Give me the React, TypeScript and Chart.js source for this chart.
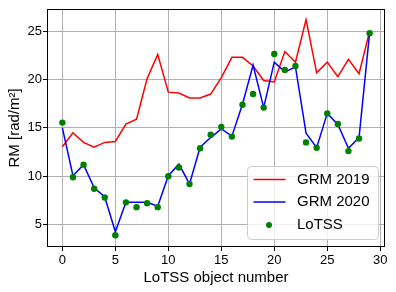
import React, { useEffect, useRef } from "react";
import { Chart, registerables } from "chart.js";

Chart.register(...registerables);

const objectNumbers = Array.from({ length: 30 }, (_, i) => i);
const grm2019 = [13.05, 14.5, 13.5, 13.0, 13.5, 13.6, 15.4, 15.9, 20.1, 22.6, 18.7, 18.6, 18.1, 18.1, 18.5, 20.2, 22.3, 22.3, 21.4, 19.9, 19.75, 22.9, 21.8, 26.2, 20.7, 21.8, 20.3, 22.1, 20.6, 25.0];
const grm2020 = [15.0, 10.05, 11.2, 8.8, 7.85, 4.25, 7.3, 7.3, 7.3, 6.9, 10.05, 11.25, 9.2, 13.0, 14.0, 14.9, 14.15, 17.45, 21.5, 17.1, 21.8, 20.8, 21.3, 14.45, 12.95, 16.5, 15.35, 12.9, 14.0, 24.85];
const lotss = [15.55, 9.9, 11.2, 8.7, 7.8, 3.9, 7.3, 6.8, 7.2, 6.8, 10.0, 10.9, 9.2, 12.9, 14.3, 15.1, 14.1, 17.4, 18.5, 17.1, 22.65, 21.0, 21.4, 13.5, 12.95, 16.5, 15.4, 12.6, 13.9, 24.8];
const seriesNames = ["GRM 2019", "GRM 2020", "LoTSS"];
const xTicks = [0, 5, 10, 15, 20, 25, 30];
const yTicks = [5, 10, 15, 20, 25];

const FONT = "'Liberation Sans', Arial, Helvetica, sans-serif";

const framePlugin = {
  id: "frameAndLegend",
  afterDraw(chart: any) {
    const { ctx, chartArea } = chart;
    ctx.save();
    ctx.strokeStyle = "#000";
    ctx.lineWidth = 1;
    ctx.strokeRect(
      Math.round(chartArea.left) + 0.5,
      Math.round(chartArea.top) + 0.5,
      Math.round(chartArea.right - chartArea.left) - 1,
      Math.round(chartArea.bottom - chartArea.top) - 1
    );
    // legend
    const bx = 247.5, by = 166.5, bw = 131, bh = 73, r = 4;
    ctx.beginPath();
    ctx.moveTo(bx + r, by);
    ctx.lineTo(bx + bw - r, by);
    ctx.arcTo(bx + bw, by, bx + bw, by + r, r);
    ctx.lineTo(bx + bw, by + bh - r);
    ctx.arcTo(bx + bw, by + bh, bx + bw - r, by + bh, r);
    ctx.lineTo(bx + r, by + bh);
    ctx.arcTo(bx, by + bh, bx, by + bh - r, r);
    ctx.lineTo(bx, by + r);
    ctx.arcTo(bx, by, bx + r, by, r);
    ctx.closePath();
    ctx.fillStyle = "rgba(255,255,255,0.8)";
    ctx.fill();
    ctx.strokeStyle = "#cccccc";
    ctx.stroke();
    const rows = [179.5, 202, 225];
    const colors = ["#ff0000", "#0000ff", "#008000"];
    ctx.font = `15px ${FONT}`;
    ctx.textBaseline = "middle";
    ctx.textAlign = "left";
    rows.forEach((y, i) => {
      if (i < 2) {
        ctx.strokeStyle = colors[i];
        ctx.lineWidth = 1.5;
        ctx.beginPath();
        ctx.moveTo(253.5, y);
        ctx.lineTo(285.5, y);
        ctx.stroke();
      } else {
        ctx.fillStyle = colors[i];
        ctx.beginPath();
        ctx.arc(269, y, 3, 0, Math.PI * 2);
        ctx.fill();
      }
      ctx.fillStyle = "#000";
      ctx.fillText(seriesNames[i], 297, y);
    });
    ctx.restore();
  },
};

export default function App() {
  const canvasRef = useRef<HTMLCanvasElement | null>(null);

  useEffect(() => {
    if (!canvasRef.current) return;
    const chart = new Chart(canvasRef.current, {
      type: "line",
      data: {
        datasets: [
          {
            label: seriesNames[0],
            data: objectNumbers.map((x, i) => ({ x, y: grm2019[i] })),
            borderColor: "#ff0000",
            borderWidth: 1.5,
            pointRadius: 0,
            tension: 0,
            order: 2,
          },
          {
            label: seriesNames[1],
            data: objectNumbers.map((x, i) => ({ x, y: grm2020[i] })),
            borderColor: "#0000ff",
            borderWidth: 1.5,
            pointRadius: 0,
            tension: 0,
            order: 1,
          },
          {
            label: seriesNames[2],
            data: objectNumbers.map((x, i) => ({ x, y: lotss[i] })),
            showLine: false,
            pointRadius: 3.2,
            pointBackgroundColor: "#008000",
            pointBorderColor: "#008000",
            pointBorderWidth: 0,
            order: 0,
          },
        ],
      },
      options: {
        animation: false,
        responsive: false,
        devicePixelRatio: 1,
        layout: { padding: { top: 6, right: 11, left: 0, bottom: 0 } },
        plugins: { legend: { display: false }, tooltip: { enabled: false } },
        scales: {
          x: {
            type: "linear",
            min: -1.45,
            max: 30.45,
            afterBuildTicks: (scale: any) => {
              scale.ticks = xTicks.map((v) => ({ value: v }));
            },
            afterFit: (scale: any) => {
              scale.height = 45;
            },
            grid: { color: "#b0b0b0", lineWidth: 1, tickLength: 4, tickColor: "#000", tickWidth: 1 },
            border: { display: false },
            ticks: { color: "#000", font: { family: FONT, size: 13 }, padding: 2, maxRotation: 0 },
            title: {
              display: true,
              text: "LoTSS object number",
              color: "#000",
              font: { family: FONT, size: 15 },
              padding: { top: 0, bottom: 5 },
            },
          },
          y: {
            type: "linear",
            min: 2.68,
            max: 27.32,
            afterBuildTicks: (scale: any) => {
              scale.ticks = yTicks.map((v) => ({ value: v }));
            },
            afterFit: (scale: any) => {
              scale.width = 47;
            },
            grid: { color: "#b0b0b0", lineWidth: 1, tickLength: 4, tickColor: "#000", tickWidth: 1 },
            border: { display: false },
            ticks: { color: "#000", font: { family: FONT, size: 13 }, padding: 1 },
            title: {
              display: true,
              text: "RM [rad/m²]",
              color: "#000",
              font: { family: FONT, size: 15 },
              padding: { top: 6, bottom: 0 },
            },
          },
        },
      },
      plugins: [framePlugin],
    });
    return () => chart.destroy();
  }, []);

  return (
    <div style={{ position: "fixed", left: 0, top: 0, width: 396, height: 292, background: "#fff" }}>
      <canvas ref={canvasRef} width={396} height={292} style={{ display: "block", width: 396, height: 292 }} />
    </div>
  );
}
